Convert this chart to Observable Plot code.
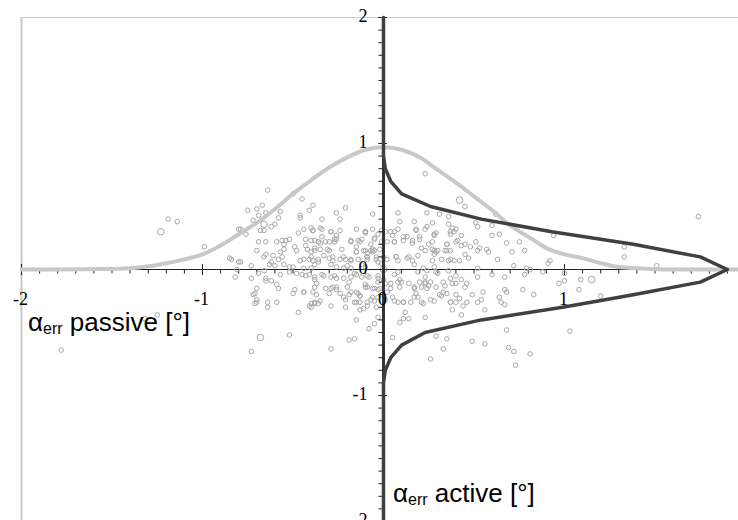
<!DOCTYPE html>
<html><head><meta charset="utf-8">
<script src="https://cdn.jsdelivr.net/npm/d3@7"></script>
<script src="https://cdn.jsdelivr.net/npm/@observablehq/plot@0.6"></script>
<style>body{margin:0;background:#fff}</style>
</head><body><div id="chart"></div>
<script>
// light grey distribution of passive error (Gaussian-like profile)
const gaussX = [-2,-1.8,-1.6,-1.4,-1.3,-1.2,-1.1,-1.0,-0.9,-0.8,-0.7,-0.6,-0.5,-0.4,-0.3,-0.2,-0.1,0,0.1,0.2,0.3,0.4,0.5,0.6,0.7,0.8,0.9,1.0,1.1,1.2,1.3,1.4,1.6,2.0];
const gaussY = [0,0,0.003,0.01,0.025,0.05,0.08,0.12,0.19,0.28,0.37,0.48,0.60,0.71,0.81,0.89,0.95,0.97,0.95,0.89,0.79,0.69,0.58,0.47,0.35,0.26,0.17,0.12,0.09,0.05,0.02,0.01,0,0];
// dark distribution of active error (sideways profile)
const activeY = [2,0.9,0.8,0.7,0.6,0.5,0.4,0.3,0.2,0.1,0,-0.1,-0.2,-0.3,-0.4,-0.5,-0.6,-0.7,-0.8,-0.9,-2];
const activeX = [0,0,0.01,0.04,0.10,0.26,0.54,0.93,1.38,1.75,1.90,1.75,1.38,0.99,0.54,0.23,0.10,0.04,0.01,0,0];
// scatter: [passive, active]
const scatter = [
[-0.64,0.63],[-0.50,0.60],[-0.45,0.56],[-0.75,0.47],[-0.70,0.48],[-0.67,0.51],[-0.65,0.45],[-0.69,0.43],[-0.72,0.39],[-0.57,0.46],[-0.39,0.51],[-0.41,0.47],[-0.46,0.43],[-0.46,0.41],[-0.58,0.41],[-0.60,0.36],[-0.62,0.34],[-0.66,0.31],[-0.68,0.31],[-0.79,0.32],[-0.76,0.28],[-0.21,0.49],[-0.26,0.45],[-0.24,0.40],[-0.34,0.40],[-0.40,0.33],[-0.39,0.31],[-0.47,0.29],[-0.34,0.32],[-0.29,0.30],[-0.26,0.27],[-0.26,0.24],[-0.27,0.22],[-0.30,0.22],[-0.10,0.29],[-0.06,0.44],[-0.05,0.24],[-0.14,0.23],[-0.13,0.22],[-0.18,0.22],[-0.69,0.22],[-0.65,0.22],[-0.56,0.23],[-0.54,0.23],[-0.52,0.24],[-0.55,0.20],[-0.59,0.22],[-0.40,0.23],[-0.36,0.22],[-0.35,0.21],[-0.31,0.16],[-0.38,0.17],[-0.40,0.14],[-0.43,0.19],[-0.49,0.18],[-0.48,0.15],[-0.55,0.16],[-0.57,0.14],[-0.70,0.15],[-0.65,0.12],[-0.66,0.10],[-0.61,0.11],[-0.58,0.08],[-0.56,0.10],[-0.62,0.06],[-0.63,0.04],[-0.60,0.03],[-0.73,0.03],[-0.79,0.06],[-0.84,0.08],[-0.55,0.04],[-0.52,0.02],[-0.46,0.07],[-0.41,0.08],[-0.39,0.07],[-0.38,0.04],[-0.36,0.06],[-0.33,0.11],[-0.30,0.09],[-0.28,0.07],[-0.29,0.04],[-0.24,0.08],[-0.21,0.08],[-0.18,0.07],[-0.15,0.14],[-0.15,0.18],[-0.11,0.15],[-0.09,0.13],[-0.07,0.15],[-0.05,0.15],[-0.04,0.10],[-0.03,0.06],[-0.09,0.08],[-0.12,0.04],[-0.20,0.03],[-0.26,0.02],[-0.22,0.01],[-0.18,0.01],[-0.10,0.02],[-0.50,0.02],[-0.44,0.01],[-0.40,0.01],
[-1.19,0.40],[-1.14,0.38],[-0.99,0.18],[-0.80,0.32],[-0.85,0.09],[-0.80,0.06],[-0.82,-0.06],[-0.81,0.0],
[-0.10,0.30],[-0.05,0.25],[-0.01,0.31],[-0.06,0.16],[0.0,0.10],[-0.09,0.10],
[-1.78,-0.64],[-0.73,-0.65],[-0.52,-0.52],[-0.29,-0.63],[-0.16,-0.55],[-0.15,-0.40],[-0.08,-0.47],[-0.05,-0.43],[-0.03,-0.38],[-0.47,-0.34],[-0.41,-0.29],[-0.38,-0.27],[-0.70,-0.26],[-0.71,-0.19],[-0.70,-0.15],[-0.64,-0.26],[-0.59,-0.26],[-0.73,-0.07],[-0.65,-0.07],[-1.32,-0.39],[-1.25,-0.36],
[-0.69,-0.03],[-0.65,-0.09],[-0.62,-0.09],[-0.59,-0.12],[-0.58,-0.15],[-0.57,-0.04],[-0.72,-0.20],[-0.71,-0.27],[-0.70,-0.24],[-0.64,-0.30],[-0.50,-0.19],[-0.49,-0.16],[-0.44,-0.18],[-0.39,-0.18],[-0.37,-0.20],[-0.38,-0.26],[-0.36,-0.27],[-0.40,-0.30],[-0.30,-0.19],[-0.29,-0.15],[-0.26,-0.16],[-0.28,-0.14],[-0.24,-0.19],[-0.19,-0.20],[-0.21,-0.24],[-0.21,-0.30],[-0.18,-0.18],[-0.14,-0.19],[-0.13,-0.21],[-0.15,-0.26],[-0.13,-0.26],[-0.09,-0.26],[-0.07,-0.24],[-0.06,-0.22],[-0.03,-0.22],[-0.04,-0.30],[-0.13,-0.32],[-0.11,-0.31],[-0.19,-0.56],
[-0.66,-0.01],[-0.52,-0.02],[-0.48,-0.03],[-0.45,-0.04],[-0.41,-0.04],[-0.38,-0.08],[-0.37,-0.11],[-0.34,-0.04],[-0.29,-0.06],[-0.26,-0.07],[-0.22,-0.07],[-0.19,-0.10],[-0.18,-0.06],[-0.15,-0.04],[-0.12,-0.06],[-0.08,-0.06],[-0.03,-0.07],[-0.03,-0.10],[-0.09,-0.14],[-0.05,-0.15],[-0.10,-0.12],[-0.03,-0.16],
[0.23,0.76],[0.45,0.50],[0.08,0.45],[0.24,0.45],[0.09,0.38],[0.17,0.38],[0.27,0.37],[0.31,0.44],[0.36,0.42],[0.36,0.36],[0.38,0.33],[0.39,0.30],[0.37,0.28],[0.18,0.31],[0.23,0.32],[0.29,0.29],[0.28,0.27],[0.01,0.30],[0.06,0.30],[0.05,0.27],[0.02,0.22],[0.06,0.22],[0.11,0.23],[0.13,0.26],[0.16,0.21],[0.20,0.26],[0.21,0.17],[0.25,0.20],[0.27,0.16],[0.28,0.12],[0.30,0.15],[0.35,0.20],[0.35,0.15],[0.37,0.15],[0.40,0.22],[0.43,0.19],[0.45,0.12],[0.48,0.18],[0.51,0.22],[0.52,0.15],[0.53,0.17],[0.57,0.16],[0.58,0.14],[0.51,0.37],[0.52,0.34],[0.60,0.35],[0.62,0.44],[0.60,0.27],[0.64,0.28],[0.68,0.21],[0.71,0.14],[0.75,0.22],[0.78,0.15],[0.63,0.08],[0.72,0.03],[0.79,0.01],[0.07,0.10],[0.08,0.07],[0.02,0.08],[0.13,0.09],[0.16,0.07],[0.27,0.07],[0.32,0.08],[0.36,0.07],[0.39,0.07],[0.47,0.09],[0.52,0.01],[0.22,0.01],[0.17,0.04],[0.28,0.02],
[1.74,0.42],[0.94,0.27],[1.33,0.18],[1.33,0.10],[1.51,0.03],[0.92,0.07],[0.91,0.05],[0.88,-0.02],[1.0,-0.03],[1.0,-0.09],[0.97,-0.11],[1.09,-0.08],[1.08,-0.16],[1.20,-0.21],[0.83,-0.20],[0.81,0.0],
[0.01,-0.11],[0.02,-0.18],[0.05,-0.22],[0.04,-0.15],[0.08,-0.10],[0.09,-0.14],[0.14,-0.11],[0.17,-0.15],[0.20,-0.10],[0.21,-0.14],[0.23,-0.11],[0.26,-0.10],[0.24,-0.15],[0.18,-0.19],[0.33,-0.10],[0.33,-0.18],[0.31,-0.20],[0.35,-0.19],[0.40,-0.20],[0.40,-0.26],[0.37,-0.26],[0.26,-0.24],[0.21,-0.26],[0.15,-0.26],[0.19,-0.22],[0.11,-0.26],[0.08,-0.26],[0.12,-0.34],[0.11,-0.39],[0.09,-0.42],[0.14,-0.39],[0.23,-0.38],[0.38,-0.32],[0.43,-0.36],[0.46,-0.26],[0.49,-0.20],[0.55,-0.18],[0.52,-0.26],[0.54,-0.24],[0.56,-0.32],[0.64,-0.22],[0.65,-0.26],[0.67,-0.28],[0.67,-0.16],[0.68,-0.18],[0.77,-0.16],[0.68,-0.48],[0.49,-0.57],[0.56,-0.59],[0.33,-0.63],[0.26,-0.71],[0.35,-0.55],[0.29,-0.53],[0.05,-0.54],[0.69,-0.62],[0.72,-0.65],[0.81,-0.67],[0.73,-0.76],[0.01,-0.24],[0.06,-0.04],[0.09,-0.08],[0.23,-0.06],[0.30,-0.03],[0.37,-0.07],[0.43,-0.08],[0.52,-0.06],[0.60,-0.04],[0.67,-0.06],[0.78,-0.04],[0.46,-0.11],[0.38,-0.11],[1.03,-0.49],
[-0.44,0.32],[-0.39,0.31],[-0.35,0.33],[-0.29,0.30],[-0.24,0.31],[-0.15,0.32],[-0.10,0.30],[-0.06,0.32],[-0.03,0.28],[-0.43,0.24],[-0.38,0.23],[-0.34,0.26],[-0.32,0.22],[-0.27,0.24],[-0.26,0.27],[-0.18,0.23],[-0.12,0.24],[-0.07,0.20],[-0.42,0.16],[-0.38,0.15],[-0.35,0.16],[-0.30,0.15],[-0.23,0.16],[-0.15,0.14],[-0.10,0.15],[-0.06,0.14],[-0.02,0.16],[-0.44,0.08],[-0.40,0.10],[-0.36,0.08],[-0.28,0.10],[-0.22,0.10],[-0.18,0.08],[-0.14,0.08],[-0.09,0.10],[-0.04,0.08],[-0.43,-0.05],[-0.38,-0.06],[-0.33,-0.05],[-0.27,-0.05],[-0.16,-0.03],[-0.09,-0.05],[-0.03,-0.05],[-0.44,-0.18],[-0.38,-0.14],[-0.32,-0.15],[-0.26,-0.14],[-0.20,-0.14],[-0.15,-0.18],[-0.10,-0.14],[-0.06,-0.15],[-0.02,-0.15],[-0.40,-0.27],[-0.35,-0.25],[-0.29,-0.29],[-0.22,-0.22],[-0.16,-0.26],[-0.13,-0.21],[-0.09,-0.29],[-0.05,-0.25],
[0.04,0.30],[0.08,0.32],[0.18,0.32],[0.24,0.34],[0.28,0.28],[0.37,0.30],[0.40,0.32],[0.43,0.27],[0.06,0.22],[0.11,0.26],[0.16,0.23],[0.20,0.24],[0.27,0.22],[0.35,0.20],[0.41,0.23],[0.45,0.20],[0.07,0.10],[0.14,0.10],[0.19,0.11],[0.23,0.15],[0.28,0.15],[0.29,0.14],[0.34,0.15],[0.37,0.08],[0.42,0.07],[0.08,-0.02],[0.19,-0.02],[0.24,-0.01],[0.29,-0.02],[0.36,-0.01],[0.40,-0.05],[0.04,-0.11],[0.10,-0.10],[0.17,-0.14],[0.23,-0.10],[0.25,-0.13],[0.29,-0.14],[0.34,-0.13],[0.40,-0.11],[0.45,-0.14],[0.06,-0.25],[0.11,-0.26],[0.17,-0.22],[0.22,-0.27],[0.28,-0.25],[0.32,-0.21],[0.37,-0.26],[0.42,-0.23],[0.44,-0.29],
[-0.01,0.22],[-0.01,0.05],[0.0,-0.08],[-0.01,-0.20]
];
const scatterLarge = [[-1.23,0.30],[-0.68,-0.54],[0.42,0.55],[1.15,-0.08],[-0.66,0.36],[0.0,0.0]];

const xMajor = [-2,-1,0,1,2];
const yMajor = [-2,-1,0,1,2];
const xLabelVals = [-2,-1,0,1];
const xTickLabels = ["-2","-1","0","1"];
const yLabelVals = [2,1,0,-1,-2];
const yTickLabels = ["2","1","0","-1","-2"];
const xTitle = ["α","err"," passive [°]"];
const yTitle = ["α","err"," active [°]"];

const minor = d3.range(-20, 21).map(i => i / 10);
const gauss = gaussX.map((x, i) => ({x, y: gaussY[i]}));
const active = activeX.map((x, i) => ({x, y: activeY[i]}));
const pts = scatter.map(([x, y]) => ({x, y}));
const ptsL = scatterLarge.map(([x, y]) => ({x, y}));

const axisCol = "#222";
const serif = "'Liberation Serif', 'DejaVu Serif', 'Times New Roman', serif";
const plot = Plot.plot({
  width: 738, height: 520,
  marginLeft: 21, marginTop: 17, marginRight: 0, marginBottom: 0,
  x: {domain: [-2, 2], range: [21, 745], axis: null},
  y: {domain: [-2, 2], range: [521, 17], axis: null},
  style: {background: "white"},
  marks: [
    Plot.ruleX([-2], {stroke: "#c8c8c8", strokeWidth: 2}),
    Plot.ruleY([2], {stroke: "#c8c8c8", strokeWidth: 1}),
    Plot.ruleY([0], {x1: -2, x2: 2, stroke: axisCol, strokeWidth: 1}),
    Plot.ruleX(minor, {x: d => d, y1: 0, y2: -0.036, stroke: axisCol, strokeWidth: 1}),
    Plot.ruleX(xMajor, {x: d => d, y1: 0.04, y2: -0.048, stroke: axisCol, strokeWidth: 1}),
    Plot.dot(pts, {x: "x", y: "y", r: 2.3, stroke: "#a8a8a8", strokeWidth: 1, fill: "none"}),
    Plot.dot(ptsL, {x: "x", y: "y", r: 3.3, stroke: "#a8a8a8", strokeWidth: 1, fill: "none"}),
    Plot.line(gauss, {x: "x", y: "y", stroke: "#c8c8c8", strokeWidth: 4, curve: "monotone-x"}),
    Plot.ruleX([0], {stroke: "#333", strokeWidth: 3}),
    Plot.ruleY(minor, {y: d => d, x1: -0.025, x2: 0, stroke: axisCol, strokeWidth: 1}),
    Plot.ruleY(yMajor, {y: d => d, x1: -0.025, x2: 0.022, stroke: axisCol, strokeWidth: 1}),
    Plot.line(active, {x: "x", y: "y", stroke: "#404040", strokeWidth: 3.5, curve: "linear"}),
    Plot.text(xLabelVals, {x: d => d, y: 0, text: (d, i) => xTickLabels[i], dx: -1, dy: 30, fontFamily: serif, fontSize: 18, fill: "#000"}),
    Plot.text(yLabelVals, {x: 0, y: d => d, text: (d, i) => yTickLabels[i], textAnchor: "end", dx: -16, dy: -1, fontFamily: serif, fontSize: 18, fill: "#000"})
  ]
});

const xs = plot.scale("x"), ys = plot.scale("y");
const svg = d3.select(plot);
function addTitle(parts, px, py) {
  const t = svg.append("text").attr("x", px).attr("y", py).attr("text-anchor", "start")
    .attr("font-family", "'Liberation Sans', Arial, sans-serif").attr("font-size", 26).attr("fill", "#000");
  t.append("tspan").text(parts[0]);
  t.append("tspan").attr("font-size", 16).attr("dy", 3).text(parts[1]);
  t.append("tspan").attr("dy", -3).text(parts[2]);
}
addTitle(xTitle, xs.apply(-2) + 7, ys.apply(0) + 62);
addTitle(yTitle, xs.apply(0) + 10, ys.apply(-2) - 19);
document.getElementById("chart").appendChild(plot);
</script>
</body></html>
